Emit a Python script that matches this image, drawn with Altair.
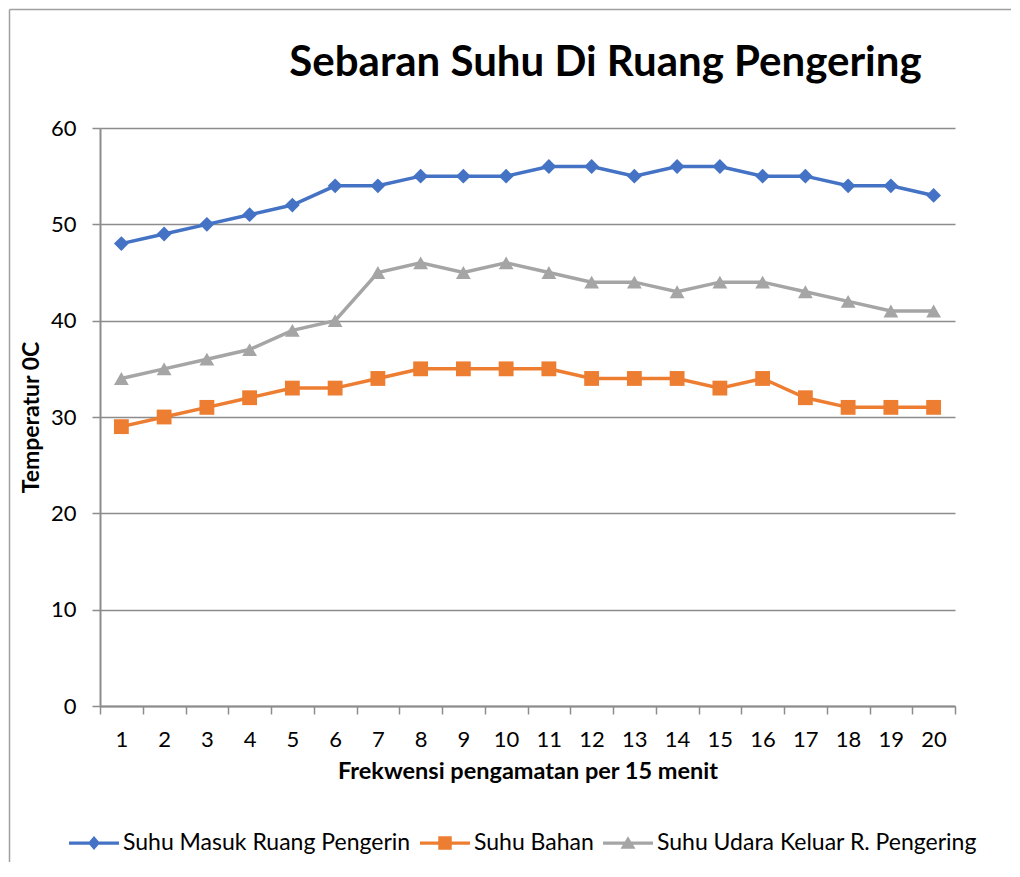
import altair as alt
import pandas as pd

x_labels = [str(i) for i in range(1, 21)]
series_names = ["Suhu Masuk Ruang Pengerin", "Suhu Bahan", "Suhu Udara Keluar R. Pengering"]
masuk = [48, 49, 50, 51, 52, 54, 54, 55, 55, 55, 56, 56, 55, 56, 56, 55, 55, 54, 54, 53]
bahan = [29, 30, 31, 32, 33, 33, 34, 35, 35, 35, 35, 34, 34, 34, 33, 34, 32, 31, 31, 31]
udara = [34, 35, 36, 37, 39, 40, 45, 46, 45, 46, 45, 44, 44, 43, 44, 44, 43, 42, 41, 41]
colors = ["#4472C4", "#ED7D31", "#A5A5A5"]
shapes = ["diamond", "square", "triangle-up"]
y_ticks = [0, 10, 20, 30, 40, 50, 60]

rows = []
for name, vals, col, shp in zip(series_names, [masuk, bahan, udara], colors, shapes):
    for xl, v in zip(x_labels, vals):
        rows.append({"x": xl, "v": v, "s": name, "c": col, "shp": shp})
df = pd.DataFrame(rows)

W, H = 855, 578
FONT = "Lato"
GRID = "#8c8c8c"

LINE = "M-1,-0.065H1V0.065H-1Z "
legend_paths = [
    LINE + "M0,-0.28L0.24,0L0,0.28L-0.24,0Z",
    LINE + "M-0.27,-0.27H0.27V0.27H-0.27Z",
    LINE + "M0,-0.27L0.3,0.23H-0.3Z",
]
sig = (
    f"datum.value === '{series_names[0]}' ? '{legend_paths[0]}' : "
    f"datum.value === '{series_names[1]}' ? '{legend_paths[1]}' : "
    f"'{legend_paths[2]}'"
)

x_enc = alt.X(
    "x:O",
    sort=x_labels,
    bandPosition=0.5,
    scale=alt.Scale(type="band", paddingInner=0, paddingOuter=0),
    axis=alt.Axis(
        title="Frekwensi pengamatan per 15 menit",
        labelAngle=0,
        tickBand="extent",
        ticks=True,
        tickSize=8,
        tickColor=GRID,
        tickWidth=1.5,
        domainColor=GRID,
        domainWidth=2,
        labelFontSize=22,
        labelPadding=15,
        titleFontSize=23.5,
        titleFontWeight="bold",
        titlePadding=9,
        grid=False,
    ),
)
y_enc = alt.Y(
    "v:Q",
    scale=alt.Scale(domain=[0, 60], nice=False),
    axis=alt.Axis(
        title="Temperatur 0C",
        values=y_ticks,
        grid=True,
        gridColor=GRID,
        gridWidth=1.5,
        tickSize=8,
        tickColor=GRID,
        tickWidth=1.5,
        domainColor=GRID,
        domainWidth=2,
        labelFontSize=22,
        labelPadding=16,
        titleFontSize=23,
        titleFontWeight="bold",
        titlePadding=7,
    ),
)

lines = alt.Chart(df).mark_line(strokeWidth=3.5).encode(
    x=x_enc,
    y=y_enc,
    color=alt.Color("c:N", scale=None),
    detail="s:N",
)

points = alt.Chart(df).mark_point(filled=True, size=220, opacity=1).encode(
    x=x_enc,
    y=y_enc,
    shape=alt.Shape("shp:N", scale=None),
    color=alt.Color(
        "s:N",
        scale=alt.Scale(domain=series_names, range=colors),
        legend=alt.Legend(
            title=None,
            orient="none",
            legendX=-31,
            legendY=690,
            direction="horizontal",
            columns=3,
            labelFontSize=23,
            labelFont=FONT,
            labelColor="black",
            labelLimit=500,
            symbolSize=2500,
            symbolStrokeWidth=0,
            symbolType=alt.ExprRef(expr=sig),
            labelOffset=4,
            columnPadding=9,
            padding=0,
            symbolOpacity=1,
        ),
    ),
)

frame_data = pd.DataFrame({"a": [0]})
frame_left = alt.Chart(frame_data).mark_rule(color="#a0a0a0", strokeWidth=1.5).encode(
    x=alt.value(-90.5),
    y=alt.value(-118.5),
    y2=alt.value(H + 300),
)
frame_top = alt.Chart(frame_data).mark_rule(color="#a0a0a0", strokeWidth=1.5).encode(
    x=alt.value(-90.5),
    x2=alt.value(W + 200),
    y=alt.value(-118.5),
)

chart = alt.layer(frame_left, frame_top, lines, points).properties(
    width=W,
    height=H,
    padding={"left": 92, "top": 120, "right": 56, "bottom": 156},
    autosize=alt.AutoSizeParams(type="none"),
    title=alt.Title(
        "Sebaran Suhu Di Ruang Pengering",
        fontSize=42,
        font=FONT,
        fontWeight="bold",
        color="black",
        anchor="middle",
        dx=78,
        frame="group",
        baseline="bottom",
        offset=-118,
    ),
).configure_view(stroke=None).configure_axis(
    labelFont=FONT, titleFont=FONT, labelColor="black", titleColor="black"
)

chart.save("out.html", embed_options={"renderer": "svg", "actions": False})
